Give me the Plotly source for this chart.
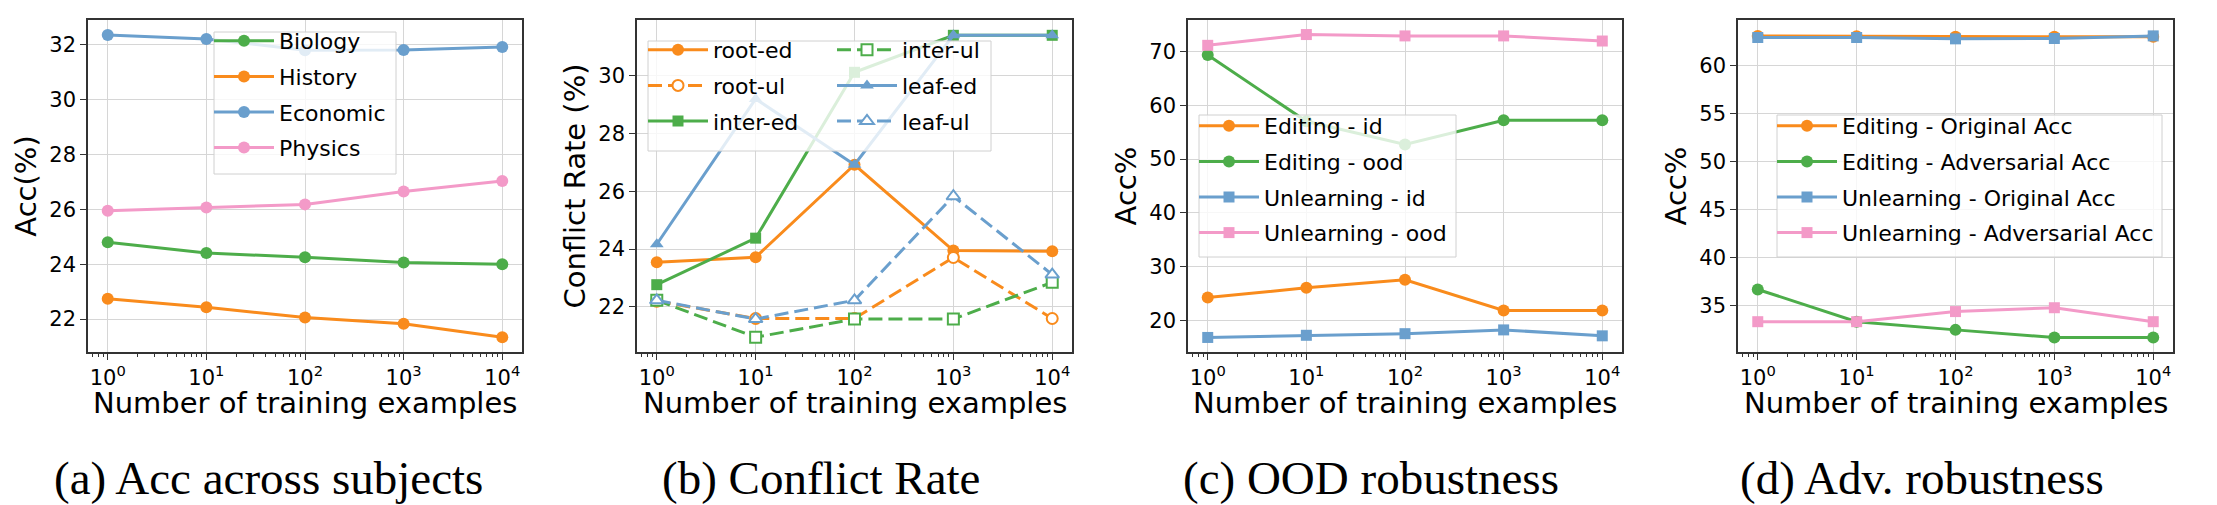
import plotly.graph_objects as go
from plotly.subplots import make_subplots

# x: number of training examples (log scale)
x_vals = [1, 10, 100, 1000, 10000]
x_labels = ['10<sup>0</sup>', '10<sup>1</sup>', '10<sup>2</sup>', '10<sup>3</sup>', '10<sup>4</sup>']

# (a) Acc across subjects
biology = [24.80, 24.41, 24.25, 24.06, 24.00]
history = [22.74, 22.43, 22.06, 21.83, 21.34]
economic = [32.35, 32.21, 31.80, 31.81, 31.92]
physics = [25.95, 26.07, 26.18, 26.65, 27.03]

# (b) Conflict rate
root_ed = [23.55, 23.72, 26.92, 23.95, 23.93]
root_ul = [22.20, 21.60, 21.60, 23.71, 21.60]
inter_ed = [22.77, 24.38, 30.12, 31.40, 31.40]
inter_ul = [22.23, 20.95, 21.58, 21.58, 22.85]
leaf_ed = [24.17, 29.20, 26.92, 31.40, 31.40]
leaf_ul = [22.23, 21.58, 22.23, 25.83, 23.12]

# (c) OOD robustness
edit_id = [24.3, 26.1, 27.6, 21.9, 21.9]
edit_ood = [69.3, 57.0, 52.7, 57.2, 57.2]
unl_id = [16.9, 17.3, 17.6, 18.3, 17.2]
unl_ood = [71.1, 73.1, 72.85, 72.85, 71.9]

# (d) Adv. robustness
edit_orig = [63.05, 63.00, 62.95, 62.95, 62.95]
edit_adv = [36.7, 33.35, 32.5, 31.7, 31.7]
unl_orig = [62.88, 62.88, 62.74, 62.78, 63.05]
unl_adv = [33.35, 33.35, 34.4, 34.8, 33.35]

captions = ['(a) Acc across subjects', '(b) Conflict Rate', '(c) OOD robustness', '(d) Adv. robustness']
x_title = 'Number of training examples'
y_titles = ['Acc(%)', 'Conflict Rate (%)', 'Acc%', 'Acc%']

ORANGE = '#f98b1c'
GREEN = '#4dad4a'
BLUE = '#6a9fcd'
PINK = '#f39ac8'

W, H = 2217, 505
fig = make_subplots(rows=1, cols=4)


def line(x, y, name, color, legend, symbol='circle', dash='solid', hollow=False, size=12):
    marker = dict(symbol=symbol, size=size, color='white' if hollow else color,
                  line=dict(color=color, width=2 if hollow else 0))
    return go.Scatter(x=x, y=y, name=name, mode='lines+markers', legend=legend,
                      legendgroup=name, line=dict(color=color, width=3, dash=dash),
                      marker=marker)


dash = '14px,6px'
panel_traces = [
    [line(x_vals, biology, 'Biology', GREEN, 'legend'),
     line(x_vals, history, 'History', ORANGE, 'legend'),
     line(x_vals, economic, 'Economic', BLUE, 'legend'),
     line(x_vals, physics, 'Physics', PINK, 'legend')],
    [line(x_vals, root_ed, 'root-ed', ORANGE, 'legend2'),
     line(x_vals, root_ul, 'root-ul', ORANGE, 'legend2', dash=dash, hollow=True, size=11),
     line(x_vals, inter_ed, 'inter-ed', GREEN, 'legend2', symbol='square', size=11),
     line(x_vals, inter_ul, 'inter-ul', GREEN, 'legend3', symbol='square', dash=dash, hollow=True, size=11),
     line(x_vals, leaf_ed, 'leaf-ed', BLUE, 'legend3', symbol='triangle-up', size=12),
     line(x_vals, leaf_ul, 'leaf-ul', BLUE, 'legend3', symbol='triangle-up', dash=dash, hollow=True, size=12)],
    [line(x_vals, edit_id, 'Editing - id', ORANGE, 'legend4'),
     line(x_vals, edit_ood, 'Editing - ood', GREEN, 'legend4'),
     line(x_vals, unl_id, 'Unlearning - id', BLUE, 'legend4', symbol='square', size=11),
     line(x_vals, unl_ood, 'Unlearning - ood', PINK, 'legend4', symbol='square', size=11)],
    [line(x_vals, edit_orig, 'Editing - Original Acc', ORANGE, 'legend5'),
     line(x_vals, edit_adv, 'Editing - Adversarial Acc', GREEN, 'legend5'),
     line(x_vals, unl_orig, 'Unlearning - Original Acc', BLUE, 'legend5', symbol='square', size=11),
     line(x_vals, unl_adv, 'Unlearning - Adversarial Acc', PINK, 'legend5', symbol='square', size=11)],
]
for i, traces in enumerate(panel_traces):
    for t in traces:
        fig.add_trace(t, row=1, col=i + 1)

# plot areas in pixels (left, right)
x_px = [(80, 514), (629, 1064), (1180, 1614), (1730, 2165)]
y_top, y_bot = 12, 344
y_ranges = [[20.8, 32.9], [20.44, 31.93], [14.2, 75.8], [30.2, 64.7]]
y_dticks = [2, 2, 10, 5]
minor_vals = [m * 10 ** e for e in range(-1, 5) for m in range(2, 10)]

tick_font = dict(family='DejaVu Sans', size=21, color='black')
title_font = dict(family='DejaVu Sans', size=29, color='black')
frame = dict(showline=True, mirror=True, linecolor='#333333', linewidth=1.5,
             ticks='outside', ticklen=6, tickwidth=1.3, tickcolor='#333333',
             showgrid=True, gridcolor='#d6d6d6', gridwidth=1, zeroline=False,
             tickfont=tick_font)

for i in range(4):
    fig.update_xaxes(type='log', range=[-0.2, 4.2], domain=[x_px[i][0] / W, x_px[i][1] / W],
                     tickvals=x_vals, ticktext=x_labels,
                     minor=dict(tickvals=minor_vals, ticks='outside', ticklen=3, tickwidth=1,
                                tickcolor='#333333', showgrid=False),
                     row=1, col=i + 1, **frame)
    fig.update_yaxes(range=y_ranges[i], dtick=y_dticks[i], domain=[1 - y_bot / H, 1 - y_top / H],
                     title=dict(text=y_titles[i], font=title_font, standoff=4),
                     row=1, col=i + 1, **frame)
    fig.add_annotation(x=(x_px[i][0] + x_px[i][1]) / 2 / W, y=1 - 395 / H, xref='paper', yref='paper',
                       text=x_title, showarrow=False, xanchor='center', yanchor='middle',
                       font=title_font)

leg = dict(font=dict(family='DejaVu Sans', size=22, color='black'), bgcolor='rgba(0,0,0,0)',
           borderwidth=0, xanchor='left', yanchor='top', tracegroupgap=4, itemwidth=60)

fig.update_layout(
    width=W, height=H, margin=dict(l=0, r=0, t=0, b=0),
    plot_bgcolor='white', paper_bgcolor='white', showlegend=True,
    legend=dict(leg, x=201 / W, y=1 - 12 / H),
    legend2=dict(leg, x=635 / W, y=1 - 21 / H),
    legend3=dict(leg, x=824 / W, y=1 - 21 / H),
    legend4=dict(leg, x=1186 / W, y=1 - 97 / H),
    legend5=dict(leg, x=1764 / W, y=1 - 97 / H),
)

# legend boxes (left, right, top, bottom in pixels)
legend_boxes = [(206, 388, 24, 166), (640, 983, 33, 143), (1191, 1448, 107, 249), (1769, 2154, 107, 249)]
for x0, x1, t, b in legend_boxes:
    fig.add_shape(type='rect', xref='paper', yref='paper', x0=x0 / W, x1=x1 / W,
                  y0=1 - b / H, y1=1 - t / H, layer='above',
                  fillcolor='rgba(255,255,255,0.8)', line=dict(color='#d0d0d0', width=1))

cap_x = [260, 813, 1363, 1914]
for cx, text in zip(cap_x, captions):
    fig.add_annotation(x=cx / W, y=1 - 470 / H, xref='paper', yref='paper', text=text,
                       showarrow=False, xanchor='center', yanchor='middle',
                       font=dict(family='Liberation Serif', size=47, color='black'))

fig.write_html('out.html')
